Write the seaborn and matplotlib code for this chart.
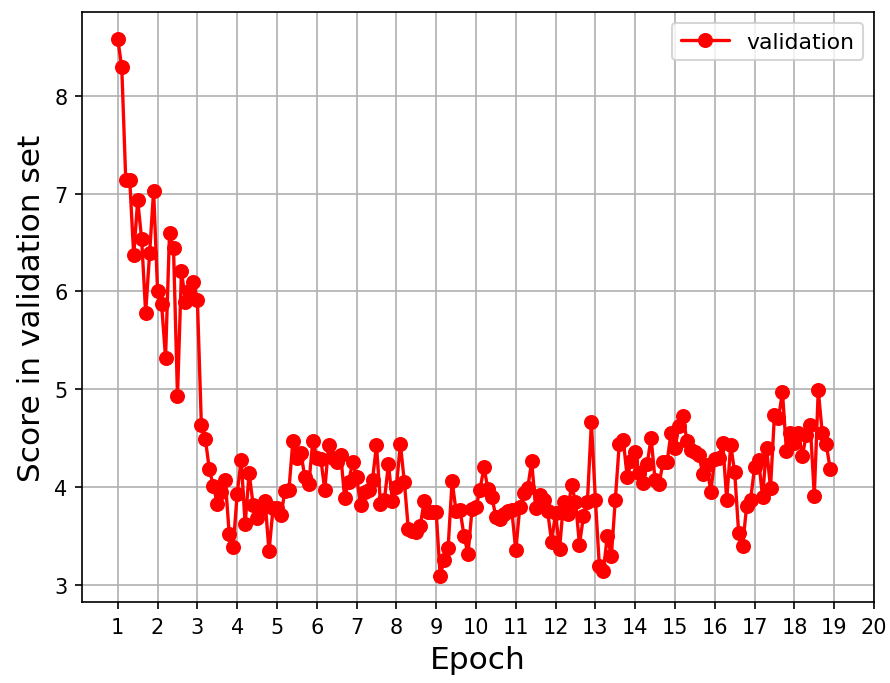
import numpy as np
import pandas as pd
import matplotlib
matplotlib.use("Agg")
import matplotlib.pyplot as plt
import seaborn as sns

# Epochs sampled every 0.1 from 1.0 to 18.9
epochs = np.round(np.arange(10, 190) / 10.0, 1)

scores = [
    8.58, 8.29, 7.14, 7.14, 6.37, 6.93, 6.53, 5.78, 6.39, 7.03,
    6.00, 5.87, 5.32, 6.60, 6.44, 4.93, 6.21, 5.89, 6.00, 6.10,
    5.91, 4.63, 4.49, 4.18, 4.01, 3.83, 3.95, 4.07, 3.52, 3.39,
    3.93, 4.28, 3.62, 4.14, 3.82, 3.68, 3.77, 3.86, 3.34, 3.78,
    3.78, 3.71, 3.96, 3.97, 4.47, 4.30, 4.35, 4.10, 4.03, 4.47,
    4.30, 4.29, 3.97, 4.43, 4.30, 4.25, 4.33, 3.89, 4.05, 4.25,
    4.10, 3.82, 3.95, 3.97, 4.07, 4.43, 3.83, 3.87, 4.23, 3.86,
    4.00, 4.44, 4.05, 3.57, 3.55, 3.54, 3.60, 3.86, 3.74, 3.74,
    3.74, 3.09, 3.25, 3.38, 4.06, 3.75, 3.76, 3.50, 3.31, 3.77,
    3.79, 3.97, 4.20, 3.98, 3.90, 3.69, 3.67, 3.72, 3.75, 3.76,
    3.35, 3.79, 3.94, 3.99, 4.26, 3.78, 3.92, 3.87, 3.75, 3.44,
    3.73, 3.36, 3.85, 3.72, 4.02, 3.85, 3.41, 3.70, 3.85, 4.66,
    3.87, 3.19, 3.14, 3.50, 3.29, 3.87, 4.44, 4.48, 4.10, 4.26,
    4.36, 4.14, 4.04, 4.23, 4.50, 4.07, 4.03, 4.25, 4.25, 4.55,
    4.40, 4.62, 4.73, 4.47, 4.38, 4.36, 4.33, 4.13, 4.22, 3.95,
    4.29, 4.30, 4.45, 3.87, 4.43, 4.15, 3.53, 3.40, 3.80, 3.87,
    4.20, 4.28, 3.90, 4.40, 3.99, 4.74, 4.70, 4.97, 4.37, 4.55,
    4.45, 4.55, 4.32, 4.53, 4.63, 3.91, 4.99, 4.55, 4.44, 4.18,
]

xticks = list(range(1, 21))
series_label = "validation"

df = pd.DataFrame({"Epoch": epochs, "Score": scores})

sns.set_style("ticks", rc={"text.color": "black", "axes.labelcolor": "black",
                           "xtick.color": "black", "ytick.color": "black",
                           "axes.edgecolor": "black"})
plt.rcParams["font.family"] = ["DejaVu Sans"]

fig, ax = plt.subplots(figsize=(890 / 150, 684 / 150), dpi=150)
fig.subplots_adjust(left=0.0921, right=0.982, top=0.981, bottom=0.1184)

sns.lineplot(data=df, x="Epoch", y="Score", ax=ax, color="red",
             marker="o", markersize=6.2, markeredgecolor="red",
             markeredgewidth=1, linewidth=1.6, label=series_label,
             errorbar=None)

ax.set_xticks(xticks)
ax.set_xlim(0.1, 20)
ax.set_ylim(2.823, 8.856)
ax.grid(True, color="#b0b0b0", linewidth=0.8)
ax.set_axisbelow(True)
for s in ax.spines.values():
    s.set_color("black")
    s.set_linewidth(0.8)
ax.tick_params(axis="both", labelsize=10, colors="black", width=0.8, length=3.5)
ax.set_xlabel("Epoch", fontsize=15)
ax.set_ylabel("Score in validation set", fontsize=15)
leg = ax.legend(loc="upper right", fontsize=10.5, frameon=True, handlelength=2.2)

fig.savefig("out.png", dpi=150)
